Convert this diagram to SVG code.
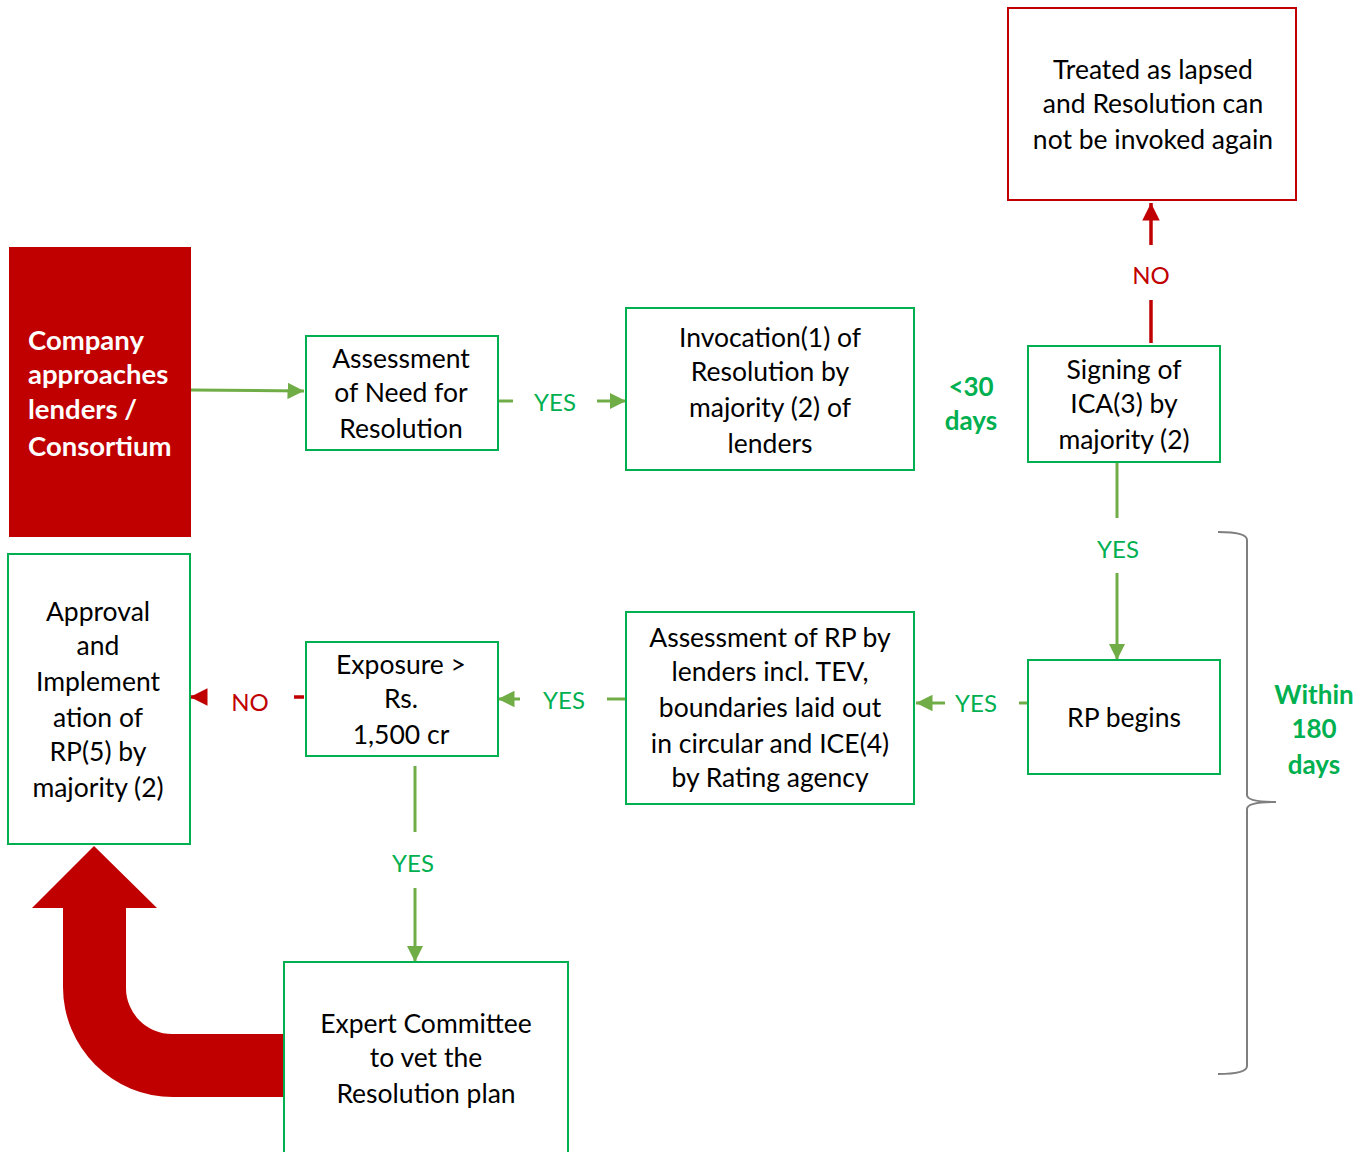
<svg xmlns="http://www.w3.org/2000/svg" width="1371" height="1152" viewBox="0 0 1371 1152">
<defs>
<style>
.box{fill:#fff;stroke:#00B050;stroke-width:2}
.rbox{fill:#fff;stroke:#C00000;stroke-width:2}
.t{font-family:Lato,"Liberation Sans",sans-serif;font-size:26.5px;fill:#000;text-anchor:middle}
.w{font-family:Lato,"Liberation Sans",sans-serif;font-size:27.5px;font-weight:bold;fill:#fff}
.g{font-family:Lato,"Liberation Sans",sans-serif;font-size:24px;fill:#00B050;text-anchor:middle}
.gb{font-family:Lato,"Liberation Sans",sans-serif;font-size:26px;font-weight:bold;fill:#00B050;text-anchor:middle}
.r{font-family:Lato,"Liberation Sans",sans-serif;font-size:24px;fill:#C00000;text-anchor:middle}
.gl{stroke:#70AD47;stroke-width:3;fill:none}
.rl{stroke:#C00000;stroke-width:3.5;fill:none}
</style>
<marker id="ga" viewBox="0 0 10 10" refX="10" refY="5" markerWidth="5.5" markerHeight="5.5" markerUnits="strokeWidth" orient="auto"><path d="M0,0L10,5L0,10z" fill="#70AD47"/></marker>
<marker id="ra" viewBox="0 0 10 10" refX="10" refY="5" markerWidth="5" markerHeight="5" markerUnits="strokeWidth" orient="auto"><path d="M0,0L10,5L0,10z" fill="#C00000"/></marker>
</defs>
<rect width="1371" height="1152" fill="#fff"/>

<g id="connectors">
<line class="gl" x1="191" y1="390" x2="304" y2="391" marker-end="url(#ga)"/>
<line class="gl" x1="498" y1="401" x2="513" y2="401"/>
<line class="gl" x1="597" y1="401" x2="626" y2="401" marker-end="url(#ga)"/>
<line class="rl" x1="1151" y1="343" x2="1151" y2="300"/>
<line class="rl" x1="1151" y1="245" x2="1151" y2="203" marker-end="url(#ra)"/>
<line class="gl" x1="1117" y1="462" x2="1117" y2="518"/>
<line class="gl" x1="1117" y1="573" x2="1117" y2="660" marker-end="url(#ga)"/>
<line class="gl" x1="1028" y1="703" x2="1019" y2="703"/>
<line class="gl" x1="945" y1="703" x2="916" y2="703" marker-end="url(#ga)"/>
<line class="gl" x1="626" y1="699" x2="607" y2="699"/>
<line class="gl" x1="520" y1="699" x2="498" y2="699" marker-end="url(#ga)"/>
<line class="rl" x1="304" y1="697" x2="294" y2="697"/>
<line class="rl" x1="207" y1="697" x2="190" y2="697" marker-end="url(#ra)"/>
<line class="gl" x1="415" y1="766" x2="415" y2="832"/>
<line class="gl" x1="415" y1="888" x2="415" y2="962" marker-end="url(#ga)"/>
<text class="g" x="555" y="411">YES</text>
<text class="r" x="1151" y="284">NO</text>
<text class="g" x="1118" y="558">YES</text>
<text class="g" x="976" y="712">YES</text>
<text class="g" x="564" y="709">YES</text>
<text class="r" x="250" y="711">NO</text>
<text class="g" x="413" y="872">YES</text>
<path d="M284,1034 L172,1034 A46,46 0 0 1 126,988 L126,908 L157,908 L94,846 L32,908 L63,908 L63,987 A110,110 0 0 0 173,1097 L284,1097 Z" fill="#C00000"/>
</g>

<g id="company">
<rect x="9" y="247" width="182" height="290" fill="#C00000"/>
<text class="w" x="28" y="350">Company</text>
<text class="w" x="28" y="384">approaches</text>
<text class="w" x="28" y="419">lenders /</text>
<text class="w" x="28" y="456">Consortium</text>
</g>

<g id="assessment">
<rect class="box" x="306" y="336" width="192" height="114"/>
<text class="t" x="401" y="368">Assessment</text>
<text class="t" x="401" y="402">of Need for</text>
<text class="t" x="401" y="438">Resolution</text>
</g>

<g id="invocation">
<rect class="box" x="626" y="308" width="288" height="162"/>
<text class="t" x="770" y="347">Invocation(1) of</text>
<text class="t" x="770" y="381">Resolution by</text>
<text class="t" x="770" y="417">majority (2) of</text>
<text class="t" x="770" y="453">lenders</text>
</g>

<g id="days30">
<text class="gb" x="971" y="396">&lt;30</text>
<text class="gb" x="971" y="430">days</text>
</g>

<g id="signing">
<rect class="box" x="1028" y="346" width="192" height="116"/>
<text class="t" x="1124" y="379">Signing of</text>
<text class="t" x="1124" y="413">ICA(3) by</text>
<text class="t" x="1124" y="449">majority (2)</text>
</g>

<g id="lapsed">
<rect class="rbox" x="1008" y="8" width="288" height="192"/>
<text class="t" x="1153" y="79">Treated as lapsed</text>
<text class="t" x="1153" y="113">and Resolution can</text>
<text class="t" x="1153" y="149">not be invoked again</text>
</g>

<g id="rpbegins">
<rect class="box" x="1028" y="660" width="192" height="114"/>
<text class="t" x="1124" y="727">RP begins</text>
</g>

<g id="assessrp">
<rect class="box" x="626" y="612" width="288" height="192"/>
<text class="t" x="770" y="647">Assessment of RP by</text>
<text class="t" x="770" y="681">lenders incl. TEV,</text>
<text class="t" x="770" y="717">boundaries laid out</text>
<text class="t" x="770" y="753">in circular and ICE(4)</text>
<text class="t" x="770" y="787">by Rating agency</text>
</g>

<g id="exposure">
<rect class="box" x="306" y="642" width="192" height="114"/>
<text class="t" x="401" y="674">Exposure &gt;</text>
<text class="t" x="401" y="708">Rs.</text>
<text class="t" x="401" y="744">1,500 cr</text>
</g>

<g id="approval">
<rect class="box" x="8" y="554" width="182" height="290"/>
<text class="t" x="98" y="621">Approval</text>
<text class="t" x="98" y="655">and</text>
<text class="t" x="98" y="691">Implement</text>
<text class="t" x="98" y="727">ation of</text>
<text class="t" x="98" y="761">RP(5) by</text>
<text class="t" x="98" y="797">majority (2)</text>
</g>

<g id="expert">
<rect class="box" x="284" y="962" width="284" height="200"/>
<text class="t" x="426" y="1033">Expert Committee</text>
<text class="t" x="426" y="1067">to vet the</text>
<text class="t" x="426" y="1103">Resolution plan</text>
</g>

<g id="bracket">
<path d="M1218,532 Q1247,532 1247,540 L1247,795 Q1247,802 1276,802 Q1247,802 1247,809 L1247,1066 Q1247,1074 1218,1074" fill="none" stroke="#7F7F7F" stroke-width="2"/>
<text class="gb" x="1314" y="704">Within</text>
<text class="gb" x="1314" y="738">180</text>
<text class="gb" x="1314" y="774">days</text>
</g>
</svg>
